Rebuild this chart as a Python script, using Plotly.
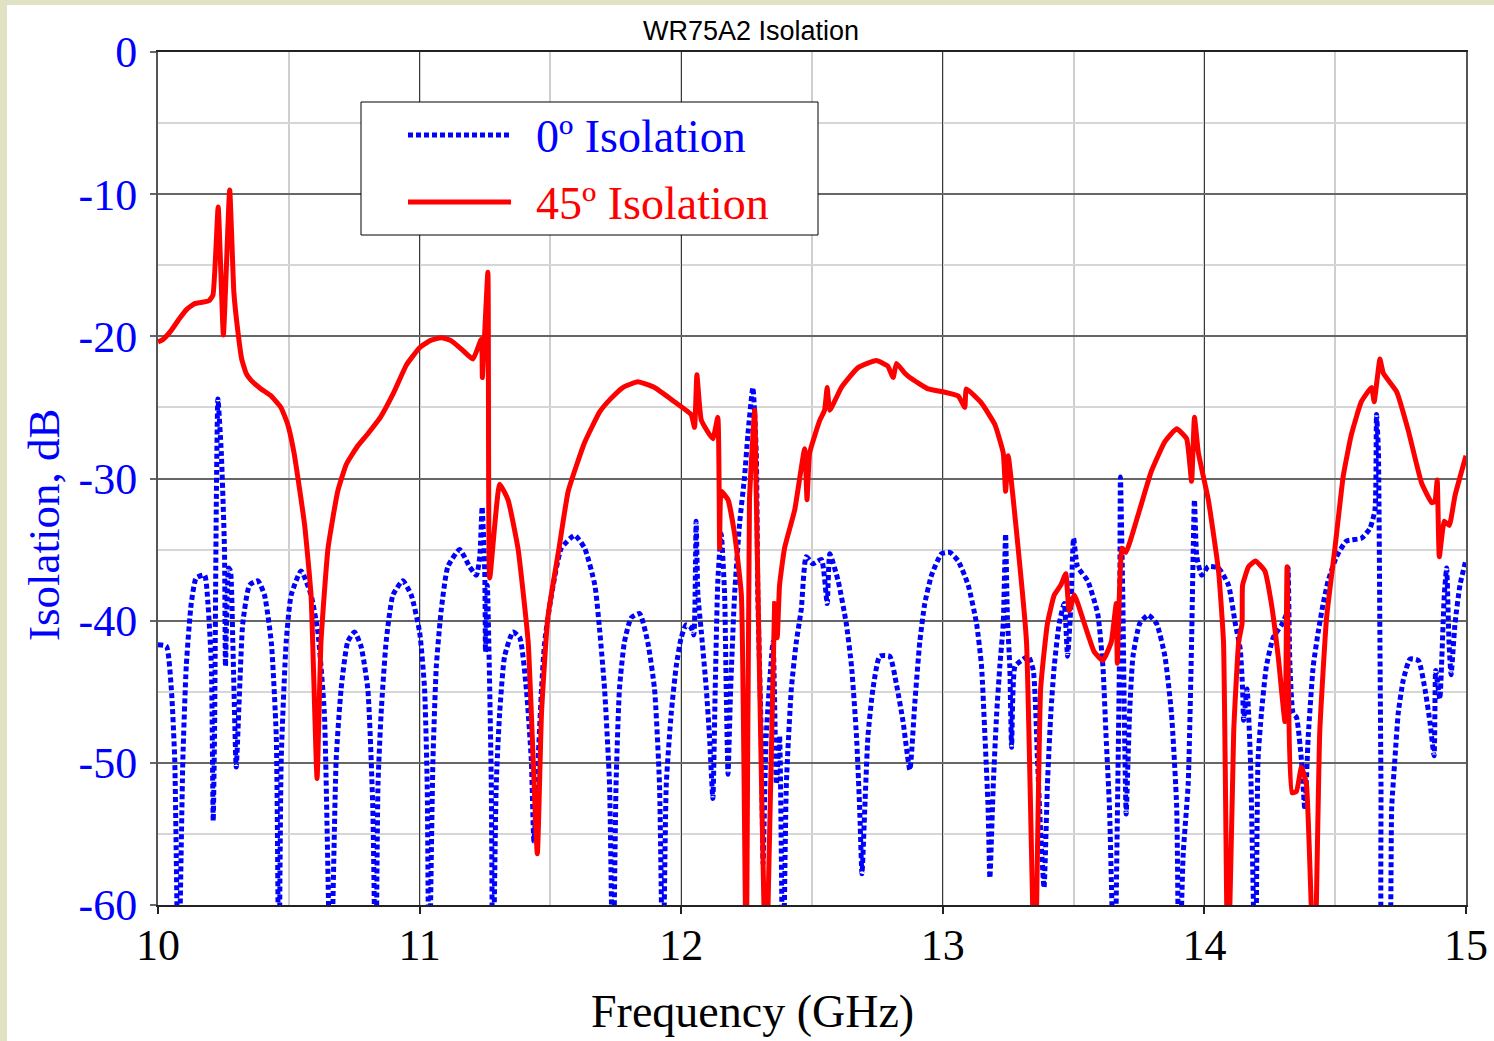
import plotly.graph_objects as go

# ---------------- data ----------------
freq_45 = [10.0, 10.02, 10.05, 10.08, 10.11, 10.14, 10.17, 10.195, 10.21, 10.23, 10.25, 10.274, 10.29,
           10.305, 10.32, 10.337, 10.356, 10.394, 10.433, 10.47, 10.496, 10.52, 10.56, 10.585, 10.608,
           10.623, 10.65, 10.687, 10.72, 10.76, 10.8, 10.85, 10.9, 10.95, 11.0, 11.04, 11.083, 11.12,
           11.16, 11.204, 11.236, 11.24, 11.261, 11.268, 11.306, 11.338, 11.376,
           11.415, 11.45, 11.466, 11.49, 11.533, 11.568, 11.63, 11.689, 11.73, 11.777, 11.834, 11.898,
           11.974, 12.038, 12.051, 12.06, 12.077, 12.121, 12.14, 12.147, 12.153, 12.179, 12.204, 12.23,
           12.249, 12.261, 12.281, 12.287, 12.325, 12.357, 12.367, 12.376, 12.395, 12.434, 12.472, 12.481,
           12.491, 12.53, 12.548, 12.558, 12.568, 12.612, 12.676, 12.746, 12.79, 12.81, 12.823, 12.855,
           12.874, 12.944, 13.0, 13.059, 13.084, 13.09, 13.148, 13.199, 13.231, 13.24, 13.25, 13.288,
           13.32, 13.352, 13.374, 13.4, 13.426, 13.451, 13.47, 13.483, 13.503, 13.541, 13.579, 13.612,
           13.644, 13.663, 13.667, 13.685, 13.7, 13.746, 13.797, 13.849, 13.894, 13.932, 13.951, 13.962,
           13.977, 14.015, 14.054, 14.073, 14.09, 14.112, 14.131, 14.144, 14.146, 14.169, 14.195, 14.231,
           14.256, 14.282, 14.308, 14.316, 14.335, 14.352, 14.371, 14.39, 14.42, 14.441, 14.467, 14.499,
           14.531, 14.562, 14.6, 14.639, 14.649, 14.671, 14.684, 14.735, 14.779, 14.83, 14.869, 14.881,
           14.89, 14.898, 14.917, 14.936, 14.958, 15.0]
iso_45 = [-20.4, -20.2, -19.6, -18.8, -18.1, -17.7, -17.6, -17.5, -17.1, -10.9, -19.9, -9.7, -16.9,
          -19.6, -21.6, -22.6, -23.1, -23.7, -24.2, -25.0, -26.2, -28.2, -33.2, -38.2, -51.1,
          -41.5, -34.9, -30.9, -29.0, -27.8, -26.9, -25.7, -24.0, -22.0, -20.8, -20.3, -20.1, -20.3,
          -20.9, -21.6, -20.2, -22.9, -15.5, -37.0, -30.4, -31.5, -34.9,
          -41.5, -56.4, -46.5, -39.8, -34.9, -30.9, -27.5, -25.3, -24.4, -23.6, -23.2, -23.6,
          -24.6, -25.5, -26.4, -22.7, -25.9, -27.2, -25.7, -34.9, -30.9, -31.5, -33.9, -38.2,
          -66.0, -31.5, -25.2, -31.2, -66.0, -38.8, -41.2, -37.5, -34.9, -32.2, -27.9, -31.5,
          -28.2, -25.9, -25.2, -23.6, -25.2, -23.6, -22.2, -21.7, -22.1, -22.9, -21.9, -22.6,
          -22.9, -23.7, -23.9, -24.2, -25.0, -23.7, -24.7, -26.2, -28.2, -30.9, -28.4, -34.9,
          -41.5, -66.0, -44.8, -40.2, -38.2, -37.5, -36.7, -39.3, -38.2, -40.2, -42.2, -42.8,
          -41.5, -38.8, -43.0, -34.9, -35.2, -32.6, -29.5, -27.4, -26.5, -27.2, -30.2, -25.7,
          -28.2, -31.5, -36.5, -41.5, -66.0, -47.8, -41.5, -40.2, -37.5, -36.2, -35.8, -36.5,
          -38.8, -42.5, -47.1, -36.2, -52.1, -52.0, -50.3, -51.5, -66.0, -47.8, -39.8, -34.9,
          -29.8, -26.9, -24.6, -23.6, -24.6, -21.6, -22.6, -23.9, -26.6, -30.3, -31.7, -31.6,
          -30.1, -35.5, -33.0, -33.3, -31.2, -28.4]

freq_0 = [10.0, 10.032, 10.051, 10.064, 10.078, 10.095, 10.108, 10.127, 10.146, 10.178, 10.191, 10.204,
          10.211, 10.216, 10.223, 10.229, 10.242, 10.254, 10.258, 10.27, 10.277, 10.286, 10.299, 10.312,
          10.324, 10.35, 10.382, 10.407, 10.433, 10.452, 10.462, 10.471, 10.49, 10.509, 10.547, 10.585,
          10.611, 10.636, 10.66, 10.681, 10.7, 10.725, 10.751, 10.776, 10.802, 10.821, 10.832, 10.841,
          10.853, 10.872, 10.898, 10.936, 10.968, 11.0, 11.019, 11.029, 11.036, 11.051, 11.064, 11.083,
          11.108, 11.153, 11.191, 11.217, 11.23, 11.239, 11.249, 11.252, 11.259, 11.268, 11.274, 11.28,
          11.293, 11.306, 11.325, 11.357, 11.383, 11.408, 11.427, 11.437, 11.453, 11.466, 11.478, 11.504,
          11.542, 11.593, 11.631, 11.67, 11.689, 11.707, 11.726, 11.739, 11.751, 11.764, 11.783, 11.809,
          11.841, 11.872, 11.898, 11.917, 11.93, 11.943, 11.962, 11.981, 12.0, 12.019, 12.038, 12.048,
          12.057, 12.064, 12.077, 12.096, 12.108, 12.121, 12.13, 12.14, 12.153, 12.166, 12.172, 12.179,
          12.189, 12.204, 12.223, 12.242, 12.255, 12.274, 12.287, 12.293, 12.306, 12.313, 12.325, 12.351,
          12.364, 12.376, 12.389, 12.402, 12.421, 12.44, 12.459, 12.478, 12.504, 12.536, 12.558, 12.568,
          12.6, 12.631, 12.651, 12.67, 12.682, 12.691, 12.702, 12.714, 12.733, 12.759, 12.797, 12.823,
          12.848, 12.874, 12.893, 12.912, 12.931, 12.957, 12.995, 13.027, 13.059, 13.097, 13.129, 13.148,
          13.161, 13.173, 13.18, 13.193, 13.206, 13.218, 13.231, 13.24, 13.247, 13.256, 13.263, 13.276,
          13.301, 13.327, 13.346, 13.362, 13.374, 13.387, 13.4, 13.413, 13.426, 13.445, 13.464, 13.477,
          13.49, 13.5, 13.515, 13.554, 13.592, 13.612, 13.624, 13.637, 13.656, 13.669, 13.676, 13.679,
          13.688, 13.695, 13.701, 13.714, 13.727, 13.753, 13.785, 13.817, 13.849, 13.874, 13.894, 13.903,
          13.919, 13.938, 13.951, 13.962, 13.971, 13.99, 14.015, 14.054, 14.092, 14.118, 14.137, 14.146,
          14.15, 14.163, 14.176, 14.195, 14.205, 14.218, 14.237, 14.263, 14.295, 14.314, 14.32, 14.327,
          14.339, 14.352, 14.371, 14.384, 14.397, 14.416, 14.435, 14.454, 14.473, 14.505, 14.543, 14.601,
          14.633, 14.652, 14.658, 14.665, 14.671, 14.675, 14.685, 14.7, 14.716, 14.728, 14.741, 14.76,
          14.786, 14.818, 14.843, 14.862, 14.878, 14.884, 14.894, 14.9, 14.917, 14.926, 14.935, 14.943,
          14.958, 14.977, 15.0]
iso_0 = [-41.7, -41.8, -44.8, -49.8, -66.0, -49.8, -43.2, -38.8, -37.0, -36.8, -38.8, -43.2,
         -54.1, -48.1, -31.5, -24.4, -28.2, -34.9, -43.2, -36.3, -36.5, -41.5, -50.3, -44.8,
         -40.2, -37.5, -37.2, -38.2, -41.5, -48.1, -66.0, -49.8, -41.5, -38.2, -36.5, -38.2,
         -40.8, -46.5, -66.0, -49.8, -44.8, -41.5, -40.8, -41.8, -44.8, -53.1, -66.0, -51.5,
         -46.5, -41.5, -38.2, -37.2, -38.2, -40.8, -44.8, -51.5, -66.0, -49.8, -43.2, -39.2,
         -36.2, -35.0, -36.2, -36.8, -35.5, -32.0, -36.5, -42.2, -37.5, -44.8, -51.5, -66.0,
         -51.5, -46.5, -42.5, -40.8, -41.2, -44.8, -49.8, -55.5, -49.8, -44.8, -41.5, -38.2,
         -34.9, -34.0, -34.9, -37.5, -40.8, -44.8, -51.5, -66.0, -51.5, -44.8, -41.5, -39.8,
         -39.5, -41.5, -44.8, -51.5, -66.0, -51.5, -46.5, -43.2, -41.2, -40.3, -40.5, -41.0,
         -33.0, -38.2, -40.8, -44.8, -48.1, -52.5, -44.8, -37.2, -33.9, -38.2, -44.8, -50.8,
         -44.8, -38.2, -33.2, -29.9, -26.9, -23.6, -28.2, -38.2, -48.1, -57.1, -48.1, -41.5,
         -51.5, -48.1, -66.0, -51.5, -44.8, -41.5, -39.2, -35.5, -36.0, -35.7, -38.8, -35.3,
         -37.2, -40.2, -43.2, -48.1, -53.1, -57.8, -53.1, -48.1, -44.8, -42.5, -42.5, -44.5,
         -47.1, -50.5, -45.8, -41.5, -38.8, -36.8, -35.3, -35.2, -35.8, -37.5, -40.2, -43.2,
         -48.1, -53.1, -58.1, -51.5, -46.5, -43.2, -40.2, -33.9, -39.8, -43.2, -48.9, -43.2,
         -42.8, -42.5, -43.5, -49.8, -54.8, -58.8, -51.5, -46.5, -43.2, -40.2, -38.8, -42.5,
         -38.8, -34.2, -36.2, -37.2, -39.5, -43.2, -48.1, -53.1, -66.0, -51.5, -41.5, -29.9,
         -38.2, -48.1, -53.6, -46.5, -42.5, -40.2, -39.6, -40.2, -42.5, -46.5, -53.1, -66.0,
         -56.4, -51.5, -41.5, -31.5, -35.5, -36.8, -36.2, -36.3, -37.5, -40.2, -42.0, -44.8,
         -47.0, -44.8, -49.8, -66.0, -49.8, -46.5, -43.2, -41.2, -40.3, -39.5, -36.3, -43.2,
         -46.5, -46.8, -49.8, -53.3, -48.1, -43.2, -40.8, -38.8, -37.2, -35.5, -34.4, -34.2,
         -33.5, -32.2, -25.5, -28.0, -41.5, -51.5, -66.0, -66.0, -53.1, -49.8, -46.5, -44.2,
         -42.7, -42.8, -44.8, -47.1, -49.5, -43.5, -44.8, -45.5, -38.2, -36.3, -41.5, -43.8,
         -40.2, -37.5, -35.7]

x_ticks = [10, 11, 12, 13, 14, 15]
y_ticks = [0, -10, -20, -30, -40, -50, -60]
series_names = ["0º Isolation", "45º Isolation"]
chart_title = "WR75A2 Isolation"
x_title = "Frequency (GHz)"
y_title = "Isolation, dB"

BLUE = "#0000FF"
RED = "#FF0000"
SERIF = "Liberation Serif, Times New Roman, serif"
DOT = "5px,3px"

fig = go.Figure()
fig.add_trace(go.Scatter(x=freq_0, y=iso_0, mode="lines", name=series_names[0],
                         line=dict(color=BLUE, width=5, dash=DOT, shape="spline", smoothing=0.5),
                         showlegend=False))
fig.add_trace(go.Scatter(x=freq_45, y=iso_45, mode="lines", name=series_names[1],
                         line=dict(color=RED, width=5, shape="spline", smoothing=0.4),
                         showlegend=False))

# plot-area pixel geometry helpers (plot area: x 158..1466, y 52..905)
def px_x(px):
    return (px - 158) / 1308.0

def px_y(py):
    return (905 - py) / 853.0

shapes = [
    # white page over beige paper (beige strip on left and top)
    dict(type="rect", xref="paper", yref="paper", x0=px_x(7), x1=px_x(1520), y0=px_y(1060), y1=px_y(5),
         fillcolor="white", line=dict(width=0), layer="below"),
    # legend box
    dict(type="rect", xref="paper", yref="paper", x0=px_x(361), x1=px_x(818), y0=px_y(235), y1=px_y(102),
         fillcolor="white", line=dict(color="black", width=1), layer="above"),
    dict(type="line", xref="paper", yref="paper", x0=px_x(408), x1=px_x(511), y0=px_y(135), y1=px_y(135),
         line=dict(color=BLUE, width=5, dash=DOT), layer="above"),
    dict(type="line", xref="paper", yref="paper", x0=px_x(408), x1=px_x(511), y0=px_y(202), y1=px_y(202),
         line=dict(color=RED, width=5), layer="above"),
]

annotations = [
    dict(text=series_names[0], xref="paper", yref="paper", x=px_x(534), y=px_y(137), xanchor="left",
         yanchor="middle", showarrow=False, font=dict(family=SERIF, size=46, color=BLUE)),
    dict(text=series_names[1], xref="paper", yref="paper", x=px_x(534), y=px_y(203), xanchor="left",
         yanchor="middle", showarrow=False, font=dict(family=SERIF, size=46, color=RED)),
    dict(text=x_title, xref="paper", yref="paper", x=px_x(752), y=px_y(1011), xanchor="center",
         yanchor="middle", showarrow=False, font=dict(family=SERIF, size=46, color="black")),
    dict(text=y_title, xref="paper", yref="paper", x=px_x(44), y=px_y(525), xanchor="center",
         yanchor="middle", textangle=-90, showarrow=False, font=dict(family=SERIF, size=45, color=BLUE)),
    dict(text=chart_title, xref="paper", yref="paper", x=px_x(751), y=px_y(31), xanchor="center",
         yanchor="middle", showarrow=False,
         font=dict(family="Liberation Sans, Arial, sans-serif", size=27, color="black")),
]

fig.update_layout(
    width=1494, height=1041,
    margin=dict(l=158, r=28, t=52, b=136, pad=0, autoexpand=False),
    paper_bgcolor="#E1E1C4",
    plot_bgcolor="white",
    showlegend=False,
    shapes=shapes,
    annotations=annotations,
)

fig.update_xaxes(
    range=[10, 15], tickvals=x_ticks, ticktext=[str(v) for v in x_ticks],
    showgrid=True, gridcolor="#3A3A3A", gridwidth=1.2,
    minor=dict(dtick=0.5, tick0=10, showgrid=True, gridcolor="#CFCFCF", gridwidth=1.5, ticks=""),
    ticks="outside", ticklen=7, tickcolor="#222222", tickwidth=1.5,
    showline=True, linecolor="#222222", linewidth=1.5, mirror=True,
    zeroline=False, ticklabelstandoff=-7, automargin=False,
    tickfont=dict(family=SERIF, size=44, color="black"),
)
fig.update_yaxes(
    range=[-60, 0], tickvals=y_ticks, ticktext=[str(v) for v in y_ticks],
    showgrid=True, gridcolor="#666666", gridwidth=1.6,
    minor=dict(dtick=5, tick0=0, showgrid=True, gridcolor="#D6D6D6", gridwidth=1.5, ticks=""),
    ticks="outside", ticklen=6, tickcolor="#666666", tickwidth=1.5,
    showline=True, linecolor="#555555", linewidth=2, mirror=True,
    zeroline=False, ticklabelstandoff=4, automargin=False,
    tickfont=dict(family=SERIF, size=44, color=BLUE),
)

fig.write_html("out.html")
